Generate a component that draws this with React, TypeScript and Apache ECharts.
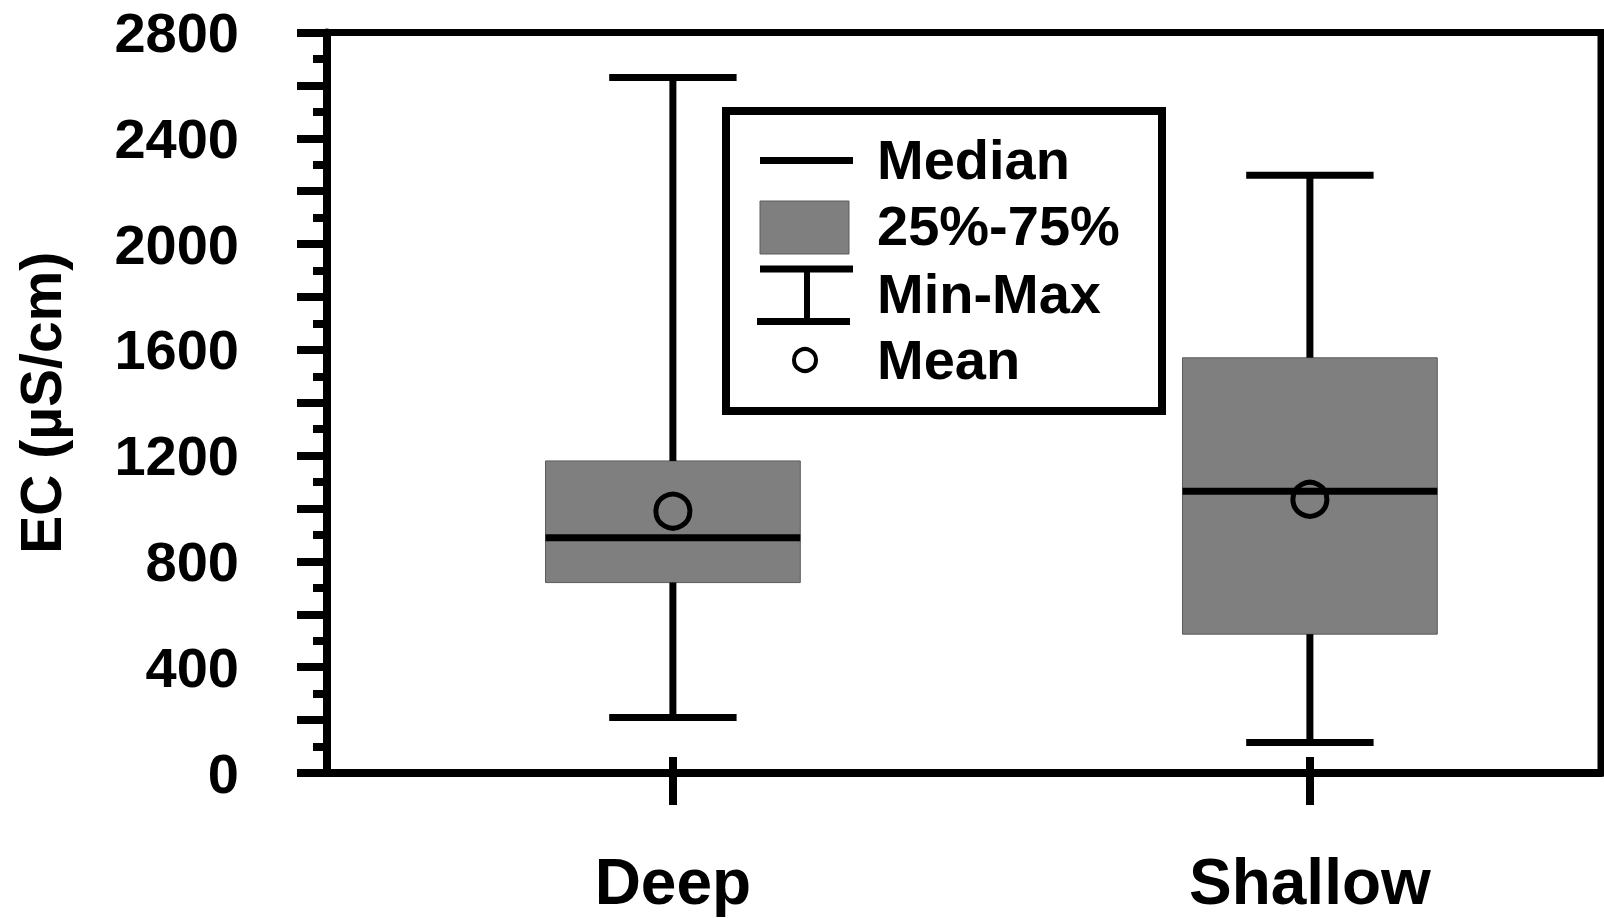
import React, { useEffect, useRef } from "react";
import * as echarts from "echarts";

// ---- data ----
const categories = ["Deep", "Shallow"];
const categoryPositions = [1, 2];
const minValues = [210, 115];
const q1Values = [720, 525];
const medianValues = [890, 1065];
const q3Values = [1180, 1570];
const maxValues = [2630, 2260];
const meanValues = [990, 1035];
const legendLabels = ["Median", "25%-75%", "Min-Max", "Mean"];

const FONT = "'Liberation Sans', Arial, Helvetica, sans-serif";
const BOX_FILL = "#7f7f7f";
const BOX_STROKE = "#5c5c5c";

export default function App() {
  const ref = useRef<HTMLDivElement>(null);

  useEffect(() => {
    if (!ref.current) return;
    const chart = echarts.init(ref.current, undefined, { renderer: "svg" });

    const boxData = categoryPositions.map((x, i) => [
      x,
      minValues[i],
      q1Values[i],
      medianValues[i],
      q3Values[i],
      maxValues[i],
      meanValues[i],
    ]);

    const renderItem = (params: any, api: any) => {
      const x = api.value(0);
      const pMin = api.coord([x, api.value(1)]);
      const pQ1 = api.coord([x, api.value(2)]);
      const pMed = api.coord([x, api.value(3)]);
      const pQ3 = api.coord([x, api.value(4)]);
      const pMax = api.coord([x, api.value(5)]);
      const pMean = api.coord([x, api.value(6)]);
      const boxW = api.size([0.4, 0])[0];
      const capW = api.size([0.2, 0])[0];
      const cx = pMed[0];
      const lineStyle = { stroke: "#000", lineWidth: 7, fill: "none" };
      return {
        type: "group",
        children: [
          {
            type: "rect",
            shape: { x: cx - boxW / 2, y: pQ3[1], width: boxW, height: pQ1[1] - pQ3[1] },
            style: { fill: BOX_FILL, stroke: BOX_STROKE, lineWidth: 1 },
          },
          { type: "line", shape: { x1: cx, y1: pQ3[1], x2: cx, y2: pMax[1] }, style: lineStyle },
          { type: "line", shape: { x1: cx, y1: pQ1[1], x2: cx, y2: pMin[1] }, style: lineStyle },
          { type: "line", shape: { x1: cx - capW / 2, y1: pMax[1], x2: cx + capW / 2, y2: pMax[1] }, style: lineStyle },
          { type: "line", shape: { x1: cx - capW / 2, y1: pMin[1], x2: cx + capW / 2, y2: pMin[1] }, style: lineStyle },
          { type: "line", shape: { x1: cx - boxW / 2, y1: pMed[1], x2: cx + boxW / 2, y2: pMed[1] }, style: lineStyle },
          {
            type: "circle",
            shape: { cx: pMean[0], cy: pMean[1], r: 17 },
            style: { fill: "none", stroke: "#000", lineWidth: 5 },
          },
        ],
      };
    };

    const legendTextYs = [159, 225, 293, 359];
    const legendGraphic: any[] = [
      {
        type: "rect",
        z: 10,
        shape: { x: 726, y: 111, width: 436, height: 300 },
        style: { fill: "#fff", stroke: "#000", lineWidth: 8 },
      },
      { type: "line", z: 11, shape: { x1: 760, y1: 160.5, x2: 853, y2: 160.5 }, style: { stroke: "#000", lineWidth: 7 } },
      {
        type: "rect",
        z: 11,
        shape: { x: 760, y: 201, width: 89, height: 53 },
        style: { fill: BOX_FILL, stroke: BOX_STROKE, lineWidth: 1 },
      },
      { type: "line", z: 11, shape: { x1: 760, y1: 269, x2: 853, y2: 269 }, style: { stroke: "#000", lineWidth: 7 } },
      { type: "line", z: 11, shape: { x1: 807, y1: 269, x2: 807, y2: 321.5 }, style: { stroke: "#000", lineWidth: 6 } },
      { type: "line", z: 11, shape: { x1: 757, y1: 321.5, x2: 850, y2: 321.5 }, style: { stroke: "#000", lineWidth: 7 } },
      {
        type: "circle",
        z: 11,
        shape: { cx: 805, cy: 360, r: 11 },
        style: { fill: "#fff", stroke: "#000", lineWidth: 4 },
      },
      ...legendLabels.map((t, i) => ({
        type: "text",
        z: 11,
        x: 877,
        y: legendTextYs[i],
        style: {
          text: t,
          fill: "#000",
          font: `bold 56px ${FONT}`,
          textAlign: "left",
          textVerticalAlign: "middle",
        },
      })),
    ];

    const option: any = {
      animation: false,
      backgroundColor: "#fff",
      grid: {
        left: 327,
        right: 3,
        top: 32.5,
        bottom: 145,
        show: true,
        borderColor: "#000",
        borderWidth: 7,
        backgroundColor: "transparent",
      },
      xAxis: [
        {
          type: "value",
          position: "bottom",
          min: 0.457,
          max: 2.457,
          axisLine: { show: true, lineStyle: { color: "#000", width: 8 } },
          axisTick: {
            show: true,
            customValues: categoryPositions,
            length: 32,
            inside: false,
            lineStyle: { color: "#000", width: 8 },
          },
          axisLabel: {
            customValues: categoryPositions,
            formatter: (v: number) => categories[Math.round(v) - 1] ?? "",
            fontSize: 64,
            fontWeight: "bold",
            fontFamily: FONT,
            color: "#000",
            margin: 77,
          },
          splitLine: { show: false },
        },
        {
          type: "value",
          position: "bottom",
          min: 0.457,
          max: 2.457,
          axisLine: { show: false },
          axisTick: {
            show: true,
            customValues: categoryPositions,
            length: 16,
            inside: true,
            lineStyle: { color: "#000", width: 8 },
          },
          axisLabel: { show: false },
          splitLine: { show: false },
        },
      ],
      yAxis: {
        type: "value",
        min: 0,
        max: 2800,
        interval: 200,
        name: "EC (µS/cm)",
        nameLocation: "middle",
        nameGap: 258,
        nameTextStyle: { fontSize: 57, fontWeight: "bold", fontFamily: FONT, color: "#000" },
        axisLine: { show: true, lineStyle: { color: "#000", width: 8 } },
        axisTick: { show: true, length: 30, inside: false, lineStyle: { color: "#000", width: 8 } },
        minorTick: { show: true, splitNumber: 2, length: 14, lineStyle: { color: "#000", width: 8 } },
        axisLabel: {
          formatter: (v: number) => (v % 400 === 0 ? String(v) : ""),
          fontSize: 56,
          fontWeight: "bold",
          fontFamily: FONT,
          color: "#000",
          margin: 88,
        },
        splitLine: { show: false },
        minorSplitLine: { show: false },
      },
      series: [
        {
          type: "custom",
          xAxisIndex: 0,
          yAxisIndex: 0,
          renderItem,
          encode: { x: 0, y: [1, 2, 3, 4, 5, 6] },
          data: boxData,
          z: 3,
        },
      ],
      graphic: legendGraphic,
    };

    chart.setOption(option);
    return () => chart.dispose();
  }, []);

  return (
    <div
      ref={ref}
      style={{ position: "absolute", left: 0, top: 0, width: "1604px", height: "918px", background: "#fff" }}
    />
  );
}
